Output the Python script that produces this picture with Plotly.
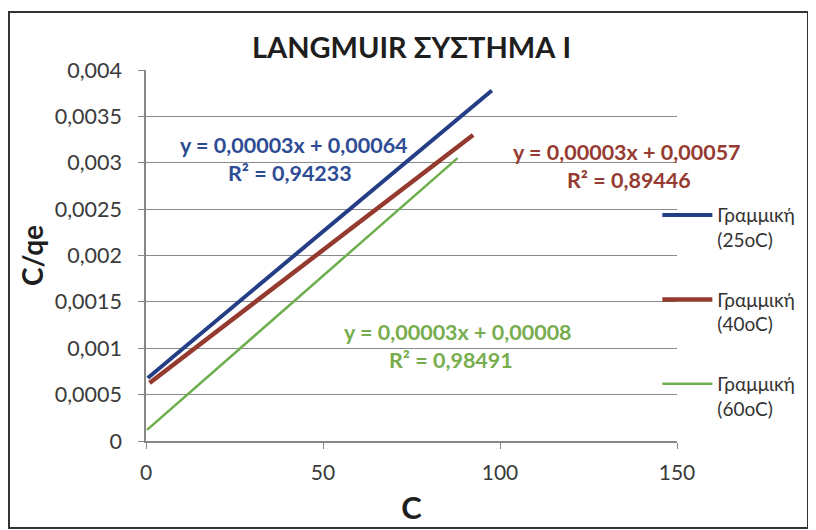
import plotly.graph_objects as go

# ---- data (trend lines) ----
series_names = ["Γραμμική<br>(25oC)", "Γραμμική<br>(40oC)", "Γραμμική<br>(60oC)"]
c_25 = [0.5, 97.7]
cq_25 = [0.00068, 0.00378]
c_40 = [1.0, 92.4]
cq_40 = [0.000625, 0.0033]
c_60 = [0.3, 88.0]
cq_60 = [0.00012, 0.00305]

eq_texts = ["y = 0,00003x + 0,00064", "y = 0,00003x + 0,00057", "y = 0,00003x + 0,00008"]
r2_texts = ["R² = 0,94233", "R² = 0,89446", "R² = 0,98491"]

y_tickvals = [0, 0.0005, 0.001, 0.0015, 0.002, 0.0025, 0.003, 0.0035, 0.004]
y_ticktext = ["0", "0,0005", "0,001", "0,0015", "0,002", "0,0025", "0,003", "0,0035", "0,004"]
x_tickvals = [0, 50, 100, 150]
x_ticktext = ["0", "50", "100", "150"]

colors = ["#243E86", "#953A2E", "#6DAE4F"]
text_colors = ["#2E4C94", "#963B32", "#77AD4E"]
widths = [4, 4.5, 2.5]

FONT = "Lato"

fig = go.Figure()
for i, (xs, ys) in enumerate([(c_25, cq_25), (c_40, cq_40), (c_60, cq_60)]):
    fig.add_trace(go.Scatter(
        x=xs, y=ys, mode="lines", name=series_names[i],
        line=dict(color=colors[i], width=widths[i]),
        legendgroup=str(i),
    ))

# equation annotations (paper coords): (eq_x, eq_y, r2_x, r2_y)
ann_pos = [(0.278, 0.798, 0.271, 0.722),
           (0.905, 0.779, 0.909, 0.7035),
           (0.588, 0.294, 0.575, 0.218)]
annotations = []
for i, (ex, ey, rx, ry) in enumerate(ann_pos):
    annotations.append(dict(x=ex, y=ey, xref="paper", yref="paper", text="<b>" + eq_texts[i] + "</b>",
                            showarrow=False, font=dict(family=FONT, size=21.5, color=text_colors[i]),
                            xanchor="center", yanchor="middle"))
    annotations.append(dict(x=rx, y=ry, xref="paper", yref="paper", text="<b>" + r2_texts[i] + "</b>",
                            showarrow=False, font=dict(family=FONT, size=21.5, color=text_colors[i]),
                            xanchor="center", yanchor="middle"))

fig.update_layout(
    width=808, height=522,
    margin=dict(l=138, r=139, t=62, b=89, autoexpand=False),
    paper_bgcolor="white", plot_bgcolor="white",
    title=dict(text="<b>LANGMUIR ΣΥΣΤΗΜΑ Ι</b>", x=0.5, xref="paper", xanchor="center",
               y=1 - 40 / 522, yanchor="middle",
               font=dict(family=FONT, size=29, color="#1E1E1E")),
    font=dict(family=FONT, color="#404040"),
    xaxis=dict(range=[0, 150], tickvals=x_tickvals, ticktext=x_ticktext, automargin=False,
               showgrid=False, zeroline=False, showline=True, linecolor="#868686", linewidth=1.5,
               ticks="outside", ticklen=6, tickcolor="#868686", ticklabelstandoff=6,
               tickfont=dict(family=FONT, size=21, color="#3A3A3A"),
               title=dict(text="<b>C</b>", font=dict(family=FONT, size=31, color="#1E1E1E"), standoff=14)),
    yaxis=dict(range=[0, 0.004], tickvals=y_tickvals, ticktext=y_ticktext, automargin=False,
               showgrid=True, gridcolor="#8A8A8A", gridwidth=1, zeroline=False,
               showline=True, linecolor="#868686", linewidth=1.5,
               ticks="outside", ticklen=6, tickcolor="#868686", ticklabelstandoff=12,
               tickfont=dict(family=FONT, size=21.5, color="#3A3A3A"),
               title=dict(text="<b>C/qe</b>", font=dict(family=FONT, size=28, color="#1E1E1E"), standoff=3)),
    legend=dict(x=0.963, y=0.66, xanchor="left", yanchor="top", traceorder="grouped",
                tracegroupgap=32, valign="top", itemwidth=50,
                font=dict(family=FONT, size=19, color="#333333"), bgcolor="rgba(0,0,0,0)"),
    annotations=annotations,
    shapes=[dict(type="rect", xref="paper", yref="paper", x0=-0.258, x1=1.2467, y0=-0.2345, y1=1.1563,
                 line=dict(color="#333333", width=2), fillcolor="rgba(0,0,0,0)", layer="below")],
)

fig.write_html("out.html")
